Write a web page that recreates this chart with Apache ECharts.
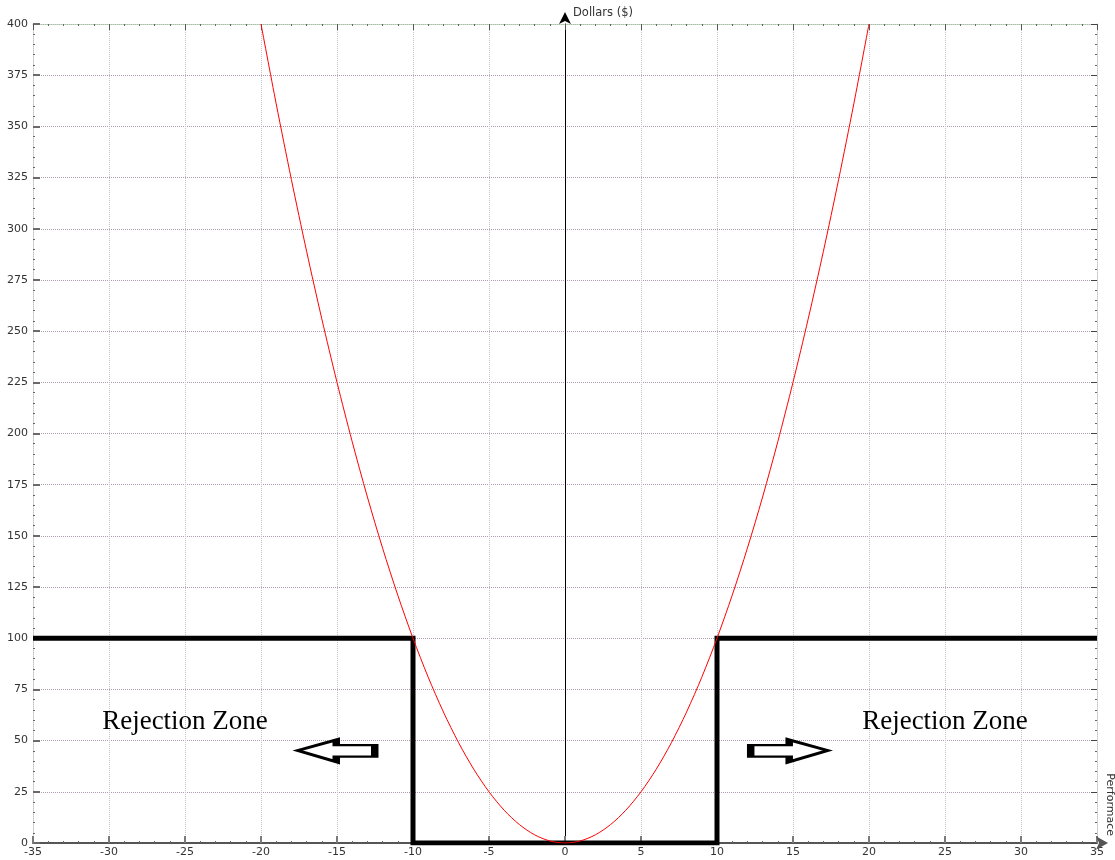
<!DOCTYPE html>
<html>
<head>
<meta charset="utf-8">
<script src="https://cdn.jsdelivr.net/npm/echarts@6/dist/echarts.min.js"></script>
<style>
html, body { margin: 0; padding: 0; background: #fff; }
#main { width: 1115px; height: 860px; }
</style>
</head>
<body>
<div id="main"></div>
<script>
// values
var curveX = [-20, -19, -18, -17, -16, -15, -14, -13, -12, -11, -10, -9, -8, -7, -6, -5, -4, -3, -2, -1, 0,
    1, 2, 3, 4, 5, 6, 7, 8, 9, 10, 11, 12, 13, 14, 15, 16, 17, 18, 19, 20];
var curveY = [400, 361, 324, 289, 256, 225, 196, 169, 144, 121, 100, 81, 64, 49, 36, 25, 16, 9, 4, 1, 0,
    1, 4, 9, 16, 25, 36, 49, 64, 81, 100, 121, 144, 169, 196, 225, 256, 289, 324, 361, 400];
var stepX = [-35, -10, -10, 10, 10, 35];
var stepY = [100, 100, 0, 0, 100, 100];
var xTicks = [-35, 35, 5];   // min, max, step
var yTicks = [0, 400, 25];
var zoneLabel = 'Rejection Zone';

var dom = document.getElementById('main');
var myChart = echarts.init(dom);

function pairs(xs, ys) {
    var d = [];
    for (var i = 0; i < xs.length; i++) d.push([xs[i], ys[i]]);
    return d;
}

var labelFont = {
    color: '#333',
    fontSize: 11,
    fontFamily: 'DejaVu Sans'
};
var dotGray = { color: '#c4c4c4', type: 'dotted', width: 1 };
var dotPurple = { color: '#b09ab0', type: 'dotted', width: 1 };

// hollow block arrows
var arrowLeft = 'path://M0,12 L40,0 L40,6 L80,6 L80,19 L40,19 L40,25 Z';
var arrowRight = 'path://M80,12 L40,0 L40,6 L0,6 L0,19 L40,19 L40,25 Z';

var option = {
    animation: false,
    backgroundColor: '#fff',
    grid: { left: 33, right: 16, top: 24, bottom: 17, containLabel: false },
    xAxis: [{
        type: 'value',
        position: 'bottom',
        min: xTicks[0], max: xTicks[1], interval: xTicks[2],
        name: 'Performace',
        nameLocation: 'end',
        nameGap: 7,
        nameRotate: -90,
        nameTextStyle: {
            color: '#333', fontSize: 11, fontFamily: 'DejaVu Sans',
            align: 'right', verticalAlign: 'bottom', padding: [0, 7, 0, 0]
        },
        axisLine: {
            onZero: false,
            symbol: ['none', 'arrow'],
            symbolSize: [10, 12],
            symbolOffset: [0, 11],
            lineStyle: { color: '#555', width: 2 }
        },
        axisTick: { inside: true, length: 7, lineStyle: { color: '#7a7a7a', width: 2 } },
        minorTick: { show: true, splitNumber: 5, length: 2, lineStyle: { color: '#666', width: 1 } },
        axisLabel: Object.assign({ margin: 4 }, labelFont),
        splitLine: { show: true, lineStyle: dotGray }
    }, {
        type: 'value',
        position: 'top',
        min: xTicks[0], max: xTicks[1], interval: xTicks[2],
        axisLine: { onZero: false, lineStyle: { color: '#a8c0a8', type: 'dotted', width: 1 } },
        axisTick: { inside: true, length: 6, lineStyle: { color: '#555', width: 1 } },
        minorTick: { show: true, splitNumber: 5, length: 2, lineStyle: { color: '#666', width: 1 } },
        axisLabel: { show: false },
        splitLine: { show: false }
    }],
    yAxis: [{
        type: 'value',
        position: 'left',
        min: yTicks[0], max: yTicks[1], interval: yTicks[2],
        axisLine: { show: true, onZero: false, lineStyle: dotGray },
        axisTick: { inside: true, length: 7, lineStyle: { color: '#6a6a6a', width: 2 } },
        minorTick: { show: true, splitNumber: 5, length: 2, lineStyle: { color: '#666', width: 1 } },
        axisLabel: Object.assign({ margin: 5 }, labelFont),
        splitLine: { show: true, lineStyle: dotPurple }
    }, {
        type: 'value',
        position: 'right',
        min: yTicks[0], max: yTicks[1], interval: yTicks[2],
        axisLine: { show: true, onZero: false, lineStyle: dotGray },
        axisTick: { inside: true, length: 6, lineStyle: { color: '#444', width: 1 } },
        minorTick: { show: true, splitNumber: 5, length: 2, lineStyle: { color: '#666', width: 1 } },
        axisLabel: { show: false },
        splitLine: { show: false }
    }, {
        type: 'value',
        min: yTicks[0], max: yTicks[1], interval: yTicks[2],
        name: 'Dollars ($)',
        nameLocation: 'end',
        nameGap: 11,
        nameTextStyle: {
            color: '#333', fontSize: 11.5, fontFamily: 'DejaVu Sans',
            align: 'left', verticalAlign: 'middle', padding: [0, 0, 0, 8]
        },
        axisLine: {
            show: true,
            onZero: true,
            onZeroAxisIndex: 0,
            symbol: ['none', 'arrow'],
            symbolSize: [9, 12],
            symbolOffset: [0, 12],
            lineStyle: { color: '#000', width: 1 }
        },
        axisTick: { show: false },
        axisLabel: { show: false },
        splitLine: { show: false }
    }],
    series: [{
        name: 'step',
        type: 'line',
        data: pairs(stepX, stepY),
        symbol: 'none',
        lineStyle: { color: '#000', width: 5, join: 'miter', cap: 'butt' },
        z: 3
    }, {
        name: 'curve',
        type: 'line',
        data: pairs(curveX, curveY),
        symbol: 'none',
        smooth: 0.3,
        lineStyle: { color: '#ff0000', width: 1 },
        z: 4
    }, {
        name: 'zones',
        type: 'scatter',
        symbolSize: 0,
        data: [[-25, 59], [25, 59]],
        itemStyle: { opacity: 1 },
        label: {
            show: true,
            position: 'inside',
            formatter: zoneLabel,
            color: '#000',
            fontSize: 27,
            fontFamily: 'Liberation Serif'
        },
        z: 5
    }, {
        name: 'arrows',
        type: 'scatter',
        data: [
            { value: [-15.05, 45], symbol: arrowLeft },
            { value: [14.75, 45], symbol: arrowRight }
        ],
        symbolSize: [77, 22],
        symbolKeepAspect: false,
        itemStyle: { color: '#fff', borderColor: '#000', borderWidth: 4, borderJoin: 'miter', opacity: 1 },
        z: 5
    }]
};

myChart.setOption(option);
window.addEventListener('resize', function () { myChart.resize(); });
</script>
</body>
</html>
